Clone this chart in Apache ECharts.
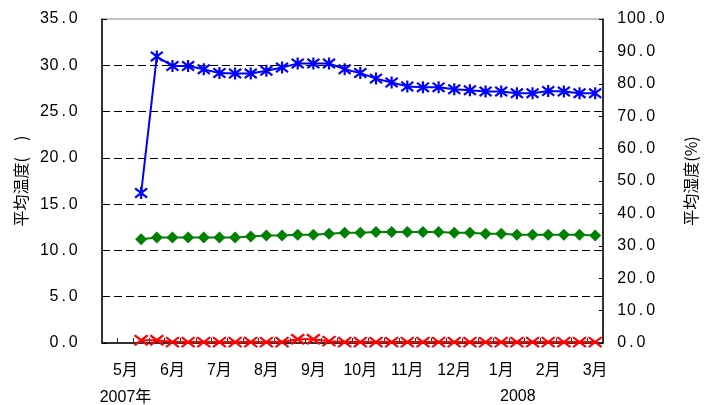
<!DOCTYPE html>
<html>
<head>
<meta charset="utf-8">
<script src="https://cdn.jsdelivr.net/npm/echarts@6/dist/echarts.min.js"></script>
<style>
  html, body { margin: 0; padding: 0; background: #fff; }
  #chart { width: 711px; height: 405px; }
</style>
</head>
<body>
<div id="chart"></div>
<script>
// Ten-day periods (上旬/中旬/下旬) from May 2007 to mid-March 2008
const months = ['5月', '6月', '7月', '8月', '9月', '10月', '11月', '12月', '1月', '2月', '3月'];
const periods = ['上旬', '中旬', '下旬'];
const categories = [];
months.forEach(function (m, i) {
  const n = (i === months.length - 1) ? 2 : 3;
  for (let k = 0; k < n; k++) categories.push(m + periods[k]);
});

// Mean humidity (%), right axis
const humidity = [null, null,
  46.3, 88.4, 85.5, 85.5, 84.5, 83.3, 83.2, 83.2, 84.0, 85.0,
  86.3, 86.3, 86.3, 84.5, 83.3, 81.6, 80.4, 79.2, 78.9, 78.9,
  78.3, 78.0, 77.6, 77.6, 77.1, 77.1, 77.8, 77.6, 77.1, 77.1];

// Mean temperature, left axis
const temperature = [null, null,
  11.2, 11.4, 11.4, 11.4, 11.4, 11.4, 11.4, 11.5, 11.6, 11.6,
  11.7, 11.7, 11.8, 11.9, 11.9, 12.0, 12.0, 12.0, 12.0, 12.0,
  11.9, 11.9, 11.8, 11.8, 11.7, 11.7, 11.7, 11.7, 11.7, 11.6];

// Third series near zero, left axis
const thirdSeries = [null, null,
  0.3, 0.3, 0.1, 0.1, 0.1, 0.1, 0.1, 0.1, 0.1, 0.1,
  0.4, 0.4, 0.2, 0.1, 0.1, 0.1, 0.1, 0.1, 0.1, 0.1,
  0.1, 0.1, 0.1, 0.1, 0.1, 0.1, 0.1, 0.1, 0.1, 0.1];

const leftTicks = { min: 0, max: 35, interval: 5 };
const rightTicks = { min: 0, max: 100, interval: 10 };
const yearLabels = { first: '2007年', second: '2008' };

const txtFont = 'Liberation Sans';
const cjkFont = 'Noto Sans CJK JP';

// Tick numbers are set in fixed-width cells, one character per cell
function monoCells(s) {
  return s.split('').map(function (c) { return '{d|' + c + '}'; }).join('');
}
const monoRich = {
  d: { width: 9.6, align: 'center', fontFamily: txtFont, fontSize: 16, color: '#000' }
};

// Marker shapes: asterisk (X plus vertical bar) and plain X, drawn as stroked paths
const starPath = 'path://M0 0 L10 10 M10 0 L0 10 M5 -1.5 L5 11.5';
const crossPath = 'path://M0 0 L10 10 M10 0 L0 10';

const chart = echarts.init(document.getElementById('chart'), null, { renderer: 'canvas' });

chart.setOption({
  animation: false,
  backgroundColor: '#ffffff',
  grid: {
    left: 102, right: 108, top: 19, bottom: 62,
    containLabel: false,
    outerBoundsMode: 'none',
    show: true, borderColor: '#888888', borderWidth: 1, backgroundColor: 'transparent'
  },
  xAxis: {
    type: 'category',
    data: categories,
    boundaryGap: true,
    axisLine: { show: true, lineStyle: { color: '#000', width: 1.5 } },
    axisTick: { show: true, inside: true, length: 5, interval: 0, lineStyle: { color: '#333' } },
    axisLabel: {
      interval: 0,
      margin: 14,
      fontFamily: txtFont + ', ' + cjkFont,
      fontSize: 16,
      color: '#000',
      lineHeight: 27,
      formatter: function (v, idx) {
        if (v.indexOf('中旬') < 0) return '';
        const m = v.replace('中旬', '');
        return idx === 1 ? m + '\n' + yearLabels.first : m;
      }
    },
    splitLine: { show: false }
  },
  yAxis: [
    {
      type: 'value',
      position: 'left',
      min: leftTicks.min, max: leftTicks.max, interval: leftTicks.interval,
      name: '平均温度(　)',
      nameLocation: 'middle',
      nameGap: 64,
      nameTextStyle: { fontFamily: cjkFont, fontSize: 16, color: '#000' },
      axisLine: { show: true, lineStyle: { color: '#000', width: 1.5 } },
      axisTick: { show: true, inside: true, length: 5, lineStyle: { color: '#000' } },
      axisLabel: {
        margin: 24, rich: monoRich,
        formatter: function (v) { return monoCells(v.toFixed(1)); }
      },
      splitLine: {
        show: true, showMinLine: false, showMaxLine: false,
        lineStyle: { color: '#000', type: [8, 4], width: 1 }
      }
    },
    {
      type: 'value',
      position: 'right',
      min: rightTicks.min, max: rightTicks.max, interval: rightTicks.interval,
      name: '平均湿度(%)',
      nameLocation: 'middle',
      nameGap: 80,
      nameTextStyle: { fontFamily: cjkFont, fontSize: 16, color: '#000' },
      axisLine: { show: true, lineStyle: { color: '#000', width: 1.5 } },
      axisTick: { show: true, inside: true, length: 4, lineStyle: { color: '#000' } },
      axisLabel: {
        margin: 14, rich: monoRich,
        formatter: function (v) { return monoCells(v.toFixed(1)); }
      },
      splitLine: { show: false }
    }
  ],
  graphic: [
    {
      type: 'text',
      left: 500, top: 389,
      style: { text: yearLabels.second, fontFamily: txtFont, fontSize: 16, fill: '#000' }
    }
  ],
  series: [
    {
      name: '平均温度',
      type: 'line',
      yAxisIndex: 0,
      data: temperature,
      symbol: 'diamond',
      symbolSize: 12,
      lineStyle: { color: '#008000', width: 2 },
      itemStyle: { color: '#008000' },
      z: 3
    },
    {
      name: '平均湿度',
      type: 'line',
      yAxisIndex: 1,
      data: humidity,
      symbol: starPath,
      symbolSize: 12,
      lineStyle: { color: '#0000ff', width: 2 },
      itemStyle: { color: 'transparent', borderColor: '#0000ff', borderWidth: 2.2 },
      z: 4
    },
    {
      name: 'その他',
      type: 'line',
      yAxisIndex: 0,
      data: thirdSeries,
      symbol: crossPath,
      symbolSize: [13, 10],
      lineStyle: { color: '#ff0000', width: 2 },
      itemStyle: { color: 'transparent', borderColor: '#ff0000', borderWidth: 2.2 },
      z: 5
    }
  ]
});
</script>
</body>
</html>
